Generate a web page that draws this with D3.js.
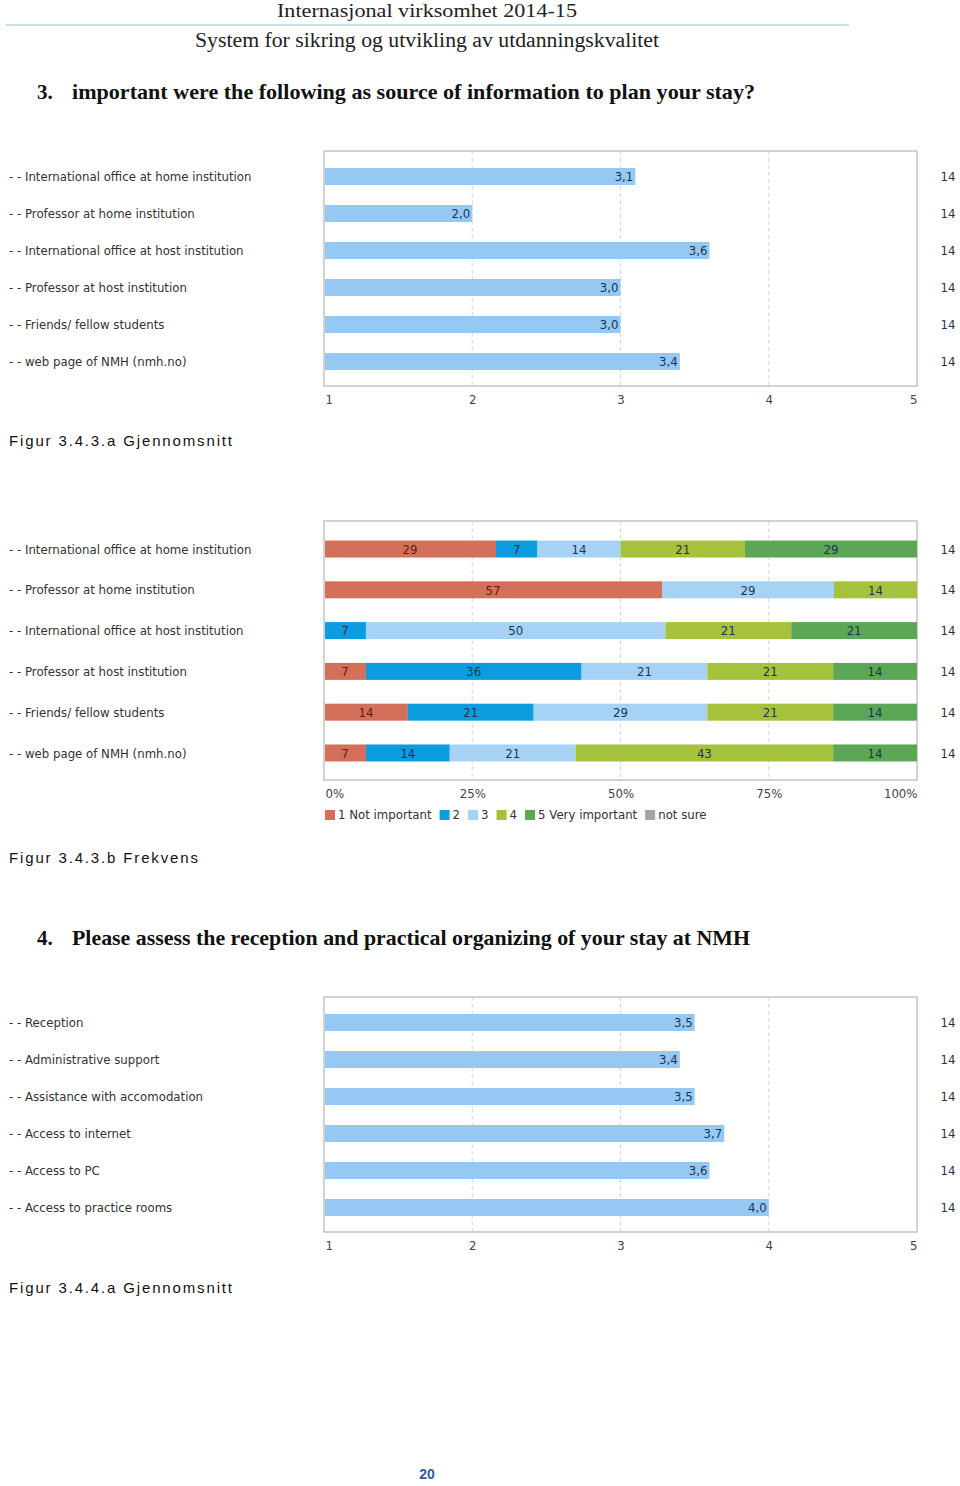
<!DOCTYPE html>
<html><head><meta charset="utf-8">
<script src="https://cdn.jsdelivr.net/npm/d3@7"></script>
<style>body{margin:0;background:#fff;} svg{display:block;}</style>
</head><body>
<svg id="c" width="960" height="1486"></svg>
<script>
// ---------- data ----------
const headerTitle = "Internasjonal virksomhet 2014-15";
const headerSub = "System for sikring og utvikling av utdanningskvalitet";
const q3Number = "3.";
const q3Title = "important were the following as source of information to plan your stay?";
const q4Number = "4.";
const q4Title = "Please assess the reception and practical organizing of your stay at NMH";

const q3Categories = [
  "- - International office at home institution",
  "- - Professor at home institution",
  "- - International office at host institution",
  "- - Professor at host institution",
  "- - Friends/ fellow students",
  "- - web page of NMH (nmh.no)"
];
const q3Means = [3.1, 2.0, 3.6, 3.0, 3.0, 3.4];
const q3Counts = [14, 14, 14, 14, 14, 14];

const freqKeys = ["1 Not important", "2", "3", "4", "5 Very important", "not sure"];
const freqNotImportant = [29, 57, 0, 7, 14, 7];
const freq2 = [7, 0, 7, 36, 21, 14];
const freq3 = [14, 29, 50, 21, 29, 21];
const freq4 = [21, 14, 21, 21, 21, 43];
const freqVeryImportant = [29, 0, 21, 14, 14, 14];
const freqNotSure = [0, 0, 0, 0, 0, 0];

const q4Categories = [
  "- - Reception",
  "- - Administrative support",
  "- - Assistance with accomodation",
  "- - Access to internet",
  "- - Access to PC",
  "- - Access to practice rooms"
];
const q4Means = [3.5, 3.4, 3.5, 3.7, 3.6, 4.0];
const q4Counts = [14, 14, 14, 14, 14, 14];

const meanTicks = [1, 2, 3, 4, 5];
const pctTicks = [0, 0.25, 0.5, 0.75, 1];

const captions = ["Figur 3.4.3.a Gjennomsnitt", "Figur 3.4.3.b Frekvens", "Figur 3.4.4.a Gjennomsnitt"];
const pageNumber = "20";

// ---------- styles ----------
const colors = ["#d4705a", "#0b9de0", "#a6d3f5", "#a6c23c", "#5ba755", "#a3a3a3"];
const barBlue = "#95c9f3";
const sans = "'DejaVu Sans', Verdana, sans-serif";
const serif = "'Liberation Serif', 'DejaVu Serif', serif";
const labelSize = 11.75;

const svg = d3.select("#c");

// ---------- header ----------
svg.append("text").attr("x", 427).attr("y", 17).attr("text-anchor", "middle")
  .attr("font-family", serif).attr("font-size", 19).attr("fill", "#222")
  .attr("textLength", 300).attr("lengthAdjust", "spacingAndGlyphs").text(headerTitle);
svg.append("line").attr("x1", 6).attr("x2", 849).attr("y1", 25).attr("y2", 25)
  .attr("stroke", "#86c3cb").attr("stroke-width", 1.2);
svg.append("text").attr("x", 427).attr("y", 47).attr("text-anchor", "middle")
  .attr("font-family", serif).attr("font-size", 20).attr("fill", "#222")
  .attr("textLength", 464).attr("lengthAdjust", "spacingAndGlyphs").text(headerSub);

function heading(num, title, y, len) {
  svg.append("text").attr("x", 37).attr("y", y).attr("font-family", serif)
    .attr("font-weight", "bold").attr("font-size", 21).attr("fill", "#111").text(num);
  svg.append("text").attr("x", 72).attr("y", y).attr("font-family", serif)
    .attr("font-weight", "bold").attr("font-size", 21).attr("fill", "#111")
    .attr("textLength", len).attr("lengthAdjust", "spacingAndGlyphs").text(title);
}
heading(q3Number, q3Title, 99, 683);
heading(q4Number, q4Title, 945, 678);

function caption(t, y) {
  svg.append("text").attr("x", 9).attr("y", y).attr("font-family", "'Liberation Sans', Arial, sans-serif")
    .attr("font-size", 15).attr("letter-spacing", 1.85).attr("fill", "#111").text(t);
}
caption(captions[0], 446);
caption(captions[1], 863);
caption(captions[2], 1293);

// ---------- common frame ----------
const X0 = 324, X1 = 917;

function frame(g, top, bottom, ticksPos) {
  g.append("g").selectAll("line").data(ticksPos).join("line")
    .attr("x1", d => d).attr("x2", d => d).attr("y1", top).attr("y2", bottom)
    .attr("stroke", "#d6d6d6").attr("stroke-dasharray", "4,3").attr("stroke-width", 1);
  g.append("rect").attr("x", X0).attr("y", top).attr("width", X1 - X0).attr("height", bottom - top)
    .attr("fill", "none").attr("stroke", "#c4c4c4").attr("stroke-width", 1.5);
}

function rowLabels(g, y, cats, counts) {
  g.append("g").selectAll("text").data(cats).join("text")
    .attr("x", 9).attr("y", d => y(d) + 1).attr("dy", "0.35em")
    .attr("font-family", sans).attr("font-size", labelSize).attr("fill", "#333").text(d => d);
  g.append("g").selectAll("text").data(counts).join("text")
    .attr("x", 948).attr("y", (d, i) => y(cats[i]) + 1).attr("dy", "0.35em").attr("text-anchor", "middle")
    .attr("font-family", sans).attr("font-size", labelSize).attr("fill", "#333").text(d => d);
}

function bottomAxis(g, scale, ticks, fmt, yPos) {
  const ax = d3.axisBottom(scale).tickValues(ticks).tickSize(0).tickPadding(0).tickFormat(fmt);
  const a = g.append("g").attr("transform", `translate(0,${yPos})`).call(ax);
  a.select(".domain").remove();
  a.selectAll("text").attr("font-family", sans).attr("font-size", labelSize).attr("fill", "#444")
    .attr("dy", "0.35em")
    .attr("text-anchor", (d, i) => i === 0 ? "start" : (i === ticks.length - 1 ? "end" : "middle"))
    .attr("dx", (d, i) => i === 0 ? 1 : 0);
}

// ---------- mean chart ----------
function meanChart(top, bottom, cats, means, counts) {
  const g = svg.append("g");
  const x = d3.scaleLinear().domain([1, 5]).range([X0, X1]);
  const y = d3.scalePoint().domain(cats).range([top, bottom]).padding(0.675);
  frame(g, top, bottom, meanTicks.slice(1, -1).map(x));
  const bh = 17;
  g.append("g").selectAll("rect").data(means).join("rect")
    .attr("x", X0 + 1).attr("y", (d, i) => y(cats[i]) - bh / 2 + 0.5)
    .attr("width", d => x(d) - X0 - 1).attr("height", bh).attr("fill", barBlue);
  g.append("g").selectAll("text").data(means).join("text")
    .attr("x", d => x(d) - 2).attr("y", (d, i) => y(cats[i]) + 1).attr("dy", "0.36em")
    .attr("text-anchor", "end").attr("font-family", sans).attr("font-size", labelSize).attr("fill", "#1e3350")
    .text(d => d3.format(".1f")(d).replace(".", ","));
  rowLabels(g, y, cats, counts);
  bottomAxis(g, x, meanTicks, d => d, bottom + 14);
}

meanChart(151, 386, q3Categories, q3Means, q3Counts);
meanChart(997, 1232, q4Categories, q4Means, q4Counts);

// ---------- frequency chart ----------
(function () {
  const top = 521, bottom = 780;
  const g = svg.append("g");
  const rows = q3Categories.map((c, i) => ({
    cat: c,
    [freqKeys[0]]: freqNotImportant[i], [freqKeys[1]]: freq2[i], [freqKeys[2]]: freq3[i],
    [freqKeys[3]]: freq4[i], [freqKeys[4]]: freqVeryImportant[i], [freqKeys[5]]: freqNotSure[i]
  }));
  const series = d3.stack().keys(freqKeys).offset(d3.stackOffsetExpand)(rows);
  const x = d3.scaleLinear().domain([0, 1]).range([X0, X1]);
  const y = d3.scalePoint().domain(q3Categories).range([top, bottom]).padding(0.675);
  const color = d3.scaleOrdinal().domain(freqKeys).range(colors);
  frame(g, top, bottom, pctTicks.slice(1, -1).map(x));
  const bh = 17;
  const sg = g.append("g").selectAll("g").data(series).join("g").attr("fill", s => color(s.key));
  sg.selectAll("rect").data(s => s.filter(d => d[1] > d[0])).join("rect")
    .attr("x", d => x(d[0]) + (d[0] === 0 ? 1 : 0)).attr("y", d => y(d.data.cat) - bh / 2 + 0.5)
    .attr("width", d => x(d[1]) - x(d[0]) - (d[0] === 0 ? 1 : 0)).attr("height", bh);
  const lg = g.append("g");
  series.forEach((s, k) => {
    s.forEach(d => {
      const v = d.data[s.key];
      if (v > 0) {
        lg.append("text").attr("x", (x(d[0]) + x(d[1])) / 2).attr("y", y(d.data.cat) + 1).attr("dy", "0.36em")
          .attr("text-anchor", "middle").attr("font-family", sans).attr("font-size", labelSize)
          .attr("fill", k === 0 ? "#5a1e12" : "#1e3350").text(v);
      }
    });
  });
  rowLabels(g, y, q3Categories, q3Counts);
  bottomAxis(g, x, pctTicks, d3.format(".0%"), bottom + 14);

  // legend
  const leg = g.append("g");
  let lx = X0 + 1;
  const ly = 815;
  freqKeys.forEach((k, i) => {
    leg.append("rect").attr("x", lx).attr("y", ly - 5).attr("width", 10).attr("height", 10).attr("fill", color(k));
    const t = leg.append("text").attr("x", lx + 13).attr("y", ly).attr("dy", "0.35em")
      .attr("font-family", sans).attr("font-size", labelSize).attr("fill", "#333").text(k);
    lx += 13 + t.node().getComputedTextLength() + 8;
  });
})();

// ---------- page number ----------
svg.append("text").attr("x", 427).attr("y", 1479).attr("text-anchor", "middle")
  .attr("font-family", "'Liberation Sans', Arial, sans-serif").attr("font-weight", "bold")
  .attr("font-size", 14).attr("fill", "#2e5a9c").text(pageNumber);
</script>
</body></html>
